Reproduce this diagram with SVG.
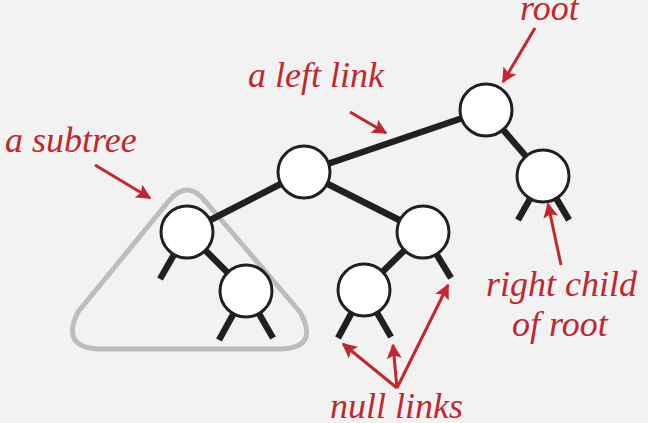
<svg xmlns="http://www.w3.org/2000/svg" width="648" height="423" viewBox="0 0 648 423">
<style>
.e{stroke:#231f20;stroke-width:6.5;fill:none}
.n{fill:#fff;stroke:#231f20;stroke-width:3}
.a{stroke:#c1272d;stroke-width:3;fill:none;marker-end:url(#ar)}
.t{font-family:"Liberation Serif",serif;font-style:italic;font-size:36px;fill:#c1272d}
</style>
<defs><marker id="ar" viewBox="0 0 10 10" refX="9" refY="5" markerWidth="5" markerHeight="5" orient="auto" markerUnits="strokeWidth"><path d="M0,0L10,5L0,10L2,5Z" fill="#c1272d"/></marker></defs>
<rect width="648" height="423" fill="#f2f2f2"/>
<path d="M168,202 Q187,178 206,202 L300,312 Q320,348 280,349 L100,349 Q60,348 78,312 Z" fill="none" stroke="#bcbdc0" stroke-width="5" stroke-linejoin="round"/>
<g id="connectors">
<line class="e" x1="486" y1="110" x2="304" y2="172"/>
<line class="e" x1="486" y1="110" x2="543" y2="176"/>
<line class="e" x1="304" y1="172" x2="187" y2="232"/>
<line class="e" x1="304" y1="172" x2="423" y2="232"/>
<line class="e" x1="187" y1="232" x2="246" y2="291"/>
<line class="e" x1="423" y1="232" x2="364" y2="290"/>
<line class="e" x1="187" y1="232" x2="160" y2="279"/>
<line class="e" x1="246" y1="291" x2="219" y2="340"/>
<line class="e" x1="246" y1="291" x2="273" y2="338"/>
<line class="e" x1="364" y1="290" x2="338" y2="338"/>
<line class="e" x1="364" y1="290" x2="391" y2="337"/>
<line class="e" x1="423" y1="232" x2="451" y2="278"/>
<line class="e" x1="543" y1="176" x2="518" y2="220"/>
<line class="e" x1="543" y1="176" x2="569" y2="220"/>
</g>
<g id="root"><circle class="n" cx="486" cy="110" r="26"/></g>
<g id="rchild"><circle class="n" cx="543" cy="176" r="26"/></g>
<g id="nA"><circle class="n" cx="304" cy="172" r="26"/></g>
<g id="nB"><circle class="n" cx="187" cy="232" r="26"/></g>
<g id="nC"><circle class="n" cx="246" cy="291" r="26"/></g>
<g id="nD"><circle class="n" cx="423" cy="232" r="26"/></g>
<g id="nE"><circle class="n" cx="364" cy="290" r="26"/></g>
<g id="labels">
<line class="a" x1="535" y1="28" x2="503" y2="82"/>
<line class="a" x1="350" y1="112" x2="386" y2="133"/>
<line class="a" x1="95" y1="165" x2="150" y2="198"/>
<line class="a" x1="561" y1="265" x2="548" y2="204"/>
<line class="a" x1="397" y1="388" x2="343" y2="344"/>
<line class="a" x1="397" y1="388" x2="393" y2="345"/>
<line class="a" x1="397" y1="388" x2="448" y2="285"/>
<text class="t" x="520" y="20">root</text>
<text class="t" x="248" y="87">a left link</text>
<text class="t" x="5" y="152">a subtree</text>
<text class="t" x="486" y="296">right child</text>
<text class="t" x="512" y="336">of root</text>
<text class="t" x="330" y="418">null links</text>
</g>
</svg>
